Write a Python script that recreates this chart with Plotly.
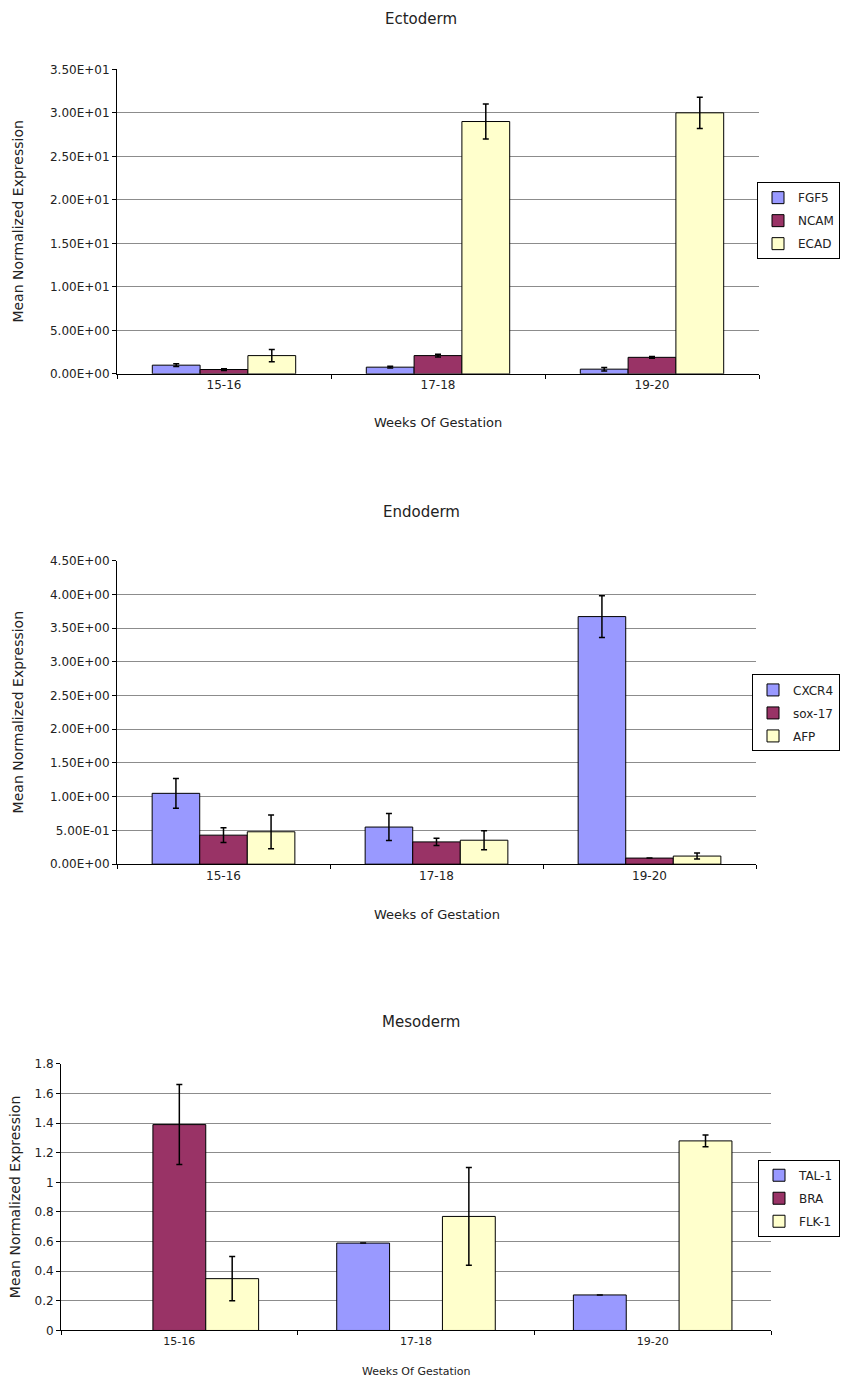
import plotly.graph_objects as go

W, H = 842, 1382

categories = ["15-16", "17-18", "19-20"]

# Ectoderm
ecto_fgf5 = [1.0, 0.77, 0.54]
ecto_fgf5_err = [0.15, 0.1, 0.2]
ecto_ncam = [0.5, 2.1, 1.9]
ecto_ncam_err = [0.1, 0.15, 0.1]
ecto_ecad = [2.1, 29.0, 30.0]
ecto_ecad_err = [0.7, 2.0, 1.8]
ecto_tickvals = [0, 5, 10, 15, 20, 25, 30, 35]
ecto_ticktext = ["0.00E+00", "5.00E+00", "1.00E+01", "1.50E+01", "2.00E+01",
                 "2.50E+01", "3.00E+01", "3.50E+01"]

# Endoderm
endo_cxcr4 = [1.05, 0.55, 3.67]
endo_cxcr4_err = [0.22, 0.2, 0.31]
endo_sox17 = [0.43, 0.33, 0.09]
endo_sox17_err = [0.11, 0.055, None]
endo_afp = [0.48, 0.355, 0.12]
endo_afp_err = [0.25, 0.14, 0.045]
endo_tickvals = [0, 0.5, 1.0, 1.5, 2.0, 2.5, 3.0, 3.5, 4.0, 4.5]
endo_ticktext = ["0.00E+00", "5.00E-01", "1.00E+00", "1.50E+00", "2.00E+00",
                 "2.50E+00", "3.00E+00", "3.50E+00", "4.00E+00", "4.50E+00"]

# Mesoderm
meso_tal1 = [None, 0.59, 0.24]
meso_tal1_err = [None, None, None]
meso_bra = [1.39, None, None]
meso_bra_err = [0.27, None, None]
meso_flk1 = [0.35, 0.77, 1.28]
meso_flk1_err = [0.15, 0.33, 0.04]
meso_tickvals = [0, 0.2, 0.4, 0.6, 0.8, 1.0, 1.2, 1.4, 1.6, 1.8]
meso_ticktext = ["0", "0.2", "0.4", "0.6", "0.8", "1", "1.2", "1.4", "1.6", "1.8"]

BLUE = "#9999FF"
PLUM = "#993366"
CREAM = "#FFFFCC"
FONT = "DejaVu Sans, Verdana, sans-serif"
INK = "#222222"

# vertical compensation for the slight rescale seen in the captured page
SY, OY = 0.9913, 5.6


def px_x(p):
    return p / W


def px_y(p):
    return 1 - ((p - OY) / SY) / H


fig = go.Figure()

panels = [
    dict(name="Ectoderm", xa="x", ya="y", legend="legend",
         series=[("FGF5", ecto_fgf5, ecto_fgf5_err, BLUE),
                 ("NCAM", ecto_ncam, ecto_ncam_err, PLUM),
                 ("ECAD", ecto_ecad, ecto_ecad_err, CREAM)],
         xdom=(117, 759), ydom=(68, 373), rng=[0, 35],
         tv=ecto_tickvals, tt=ecto_ticktext, tfs=12, cfs=12,
         title_y=18, xtitle="Weeks Of Gestation", xtitle_y=422, xtfs=13,
         ytitle_x=18, ytfs=14, legend_top=181),
    dict(name="Endoderm", xa="x2", ya="y2", legend="legend2",
         series=[("CXCR4", endo_cxcr4, endo_cxcr4_err, BLUE),
                 ("sox-17", endo_sox17, endo_sox17_err, PLUM),
                 ("AFP", endo_afp, endo_afp_err, CREAM)],
         xdom=(117, 756), ydom=(560, 864), rng=[0, 4.5],
         tv=endo_tickvals, tt=endo_ticktext, tfs=12, cfs=12,
         title_y=511, xtitle="Weeks of Gestation", xtitle_y=914, xtfs=13,
         ytitle_x=18, ytfs=14, legend_top=674),
    dict(name="Mesoderm", xa="x3", ya="y3", legend="legend3",
         series=[("TAL-1", meso_tal1, meso_tal1_err, BLUE),
                 ("BRA", meso_bra, meso_bra_err, PLUM),
                 ("FLK-1", meso_flk1, meso_flk1_err, CREAM)],
         xdom=(61, 771), ydom=(1064, 1331), rng=[0, 1.8],
         tv=meso_tickvals, tt=meso_ticktext, tfs=12, cfs=11,
         title_y=1022, xtitle="Weeks Of Gestation", xtitle_y=1372, xtfs=11,
         ytitle_x=15, ytfs=14, legend_top=1160),
]

annotations = []
layout_axes = {}
for i, p in enumerate(panels):
    for j, (nm, vals, errs, col) in enumerate(p["series"]):
        fig.add_trace(go.Bar(
            x=categories, y=vals, name=nm,
            marker=dict(color=col, line=dict(color="#000000", width=1)),
            error_y=dict(type="data", array=errs, visible=True,
                         color="#000000", thickness=1.5, width=3),
            xaxis=p["xa"], yaxis=p["ya"], legend=p["legend"],
            legendgroup=f"{p['name']}{j}",
        ))
    suffix = "" if i == 0 else str(i + 1)
    layout_axes["xaxis" + suffix] = dict(
        domain=[px_x(p["xdom"][0]), px_x(p["xdom"][1])],
        anchor="y" + suffix, type="category",
        showline=True, linecolor="#000000", linewidth=1,
        ticks="outside", ticklen=4, tickcolor="#000000", tickson="boundaries",
        showgrid=False, tickfont=dict(family=FONT, size=p["cfs"], color=INK),
    )
    layout_axes["yaxis" + suffix] = dict(
        domain=[px_y(p["ydom"][1]), px_y(p["ydom"][0])],
        anchor="x" + suffix, range=p["rng"],
        tickvals=p["tv"], ticktext=p["tt"],
        showline=True, linecolor="#000000", linewidth=1,
        ticks="outside", ticklen=4, tickcolor="#000000",
        showgrid=True, gridcolor="#8c8c8c", gridwidth=1,
        zeroline=False,
        tickfont=dict(family=FONT, size=p["tfs"], color=INK),
    )
    cx = (p["xdom"][0] + p["xdom"][1]) / 2
    annotations.append(dict(
        text=p["name"], x=px_x(421), y=px_y(p["title_y"]), xref="paper", yref="paper",
        showarrow=False, font=dict(family=FONT, size=15, color=INK),
        xanchor="center", yanchor="middle"))
    annotations.append(dict(
        text=p["xtitle"], x=px_x(cx), y=px_y(p["xtitle_y"]), xref="paper", yref="paper",
        showarrow=False, font=dict(family=FONT, size=p["xtfs"], color=INK),
        xanchor="center", yanchor="middle"))
    annotations.append(dict(
        text="Mean Normalized Expression", x=px_x(p["ytitle_x"]),
        y=px_y((p["ydom"][0] + p["ydom"][1]) / 2), xref="paper", yref="paper",
        showarrow=False, textangle=-90,
        font=dict(family=FONT, size=p["ytfs"], color=INK),
        xanchor="center", yanchor="middle"))
    layout_axes[p["legend"]] = dict(
        x=px_x(840), y=px_y(p["legend_top"]),
        xanchor="right", yanchor="top", xref="paper", yref="paper",
        bordercolor="#000000", borderwidth=1, bgcolor="#ffffff",
        font=dict(family=FONT, size=12, color=INK),
        tracegroupgap=4, itemwidth=30,
    )

fig.update_layout(
    width=W, height=H, autosize=False,
    margin=dict(l=0, r=0, t=0, b=0),
    paper_bgcolor="#ffffff", plot_bgcolor="#ffffff",
    barmode="group", bargap=0.33, bargroupgap=0,
    annotations=annotations,
    **layout_axes,
)

fig.write_html(
    "out.html",
    config={"displayModeBar": False},
    post_script="document.body.style.margin='0';document.body.style.overflow='hidden';",
)
